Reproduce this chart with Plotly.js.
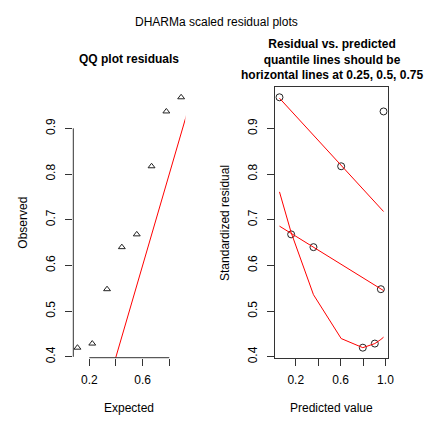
<!DOCTYPE html>
<html><head><meta charset="utf-8">
<script src="https://cdn.plot.ly/plotly-3.0.1.min.js"></script>
<style>html,body{margin:0;padding:0;background:#fff;}</style>
</head><body><div id="chart" style="width:432px;height:432px;"></div>
<script>
// QQ plot data
const qqExpected = [0.111, 0.222, 0.333, 0.444, 0.556, 0.667, 0.778, 0.889];
const qqObserved = [0.420, 0.429, 0.548, 0.640, 0.668, 0.817, 0.937, 0.968];
const qqLineX = [0, 1];
const qqLineY = [0, 1];
// Residual vs predicted data
const predicted = [0.055, 0.983, 0.605, 0.159, 0.358, 0.959, 0.798, 0.905];
const residual  = [0.968, 0.937, 0.817, 0.668, 0.640, 0.548, 0.420, 0.429];
// Quantile regression lines
const q75X = [0.055, 0.983];
const q75Y = [0.966, 0.718];
const q50X = [0.055, 0.983];
const q50Y = [0.686, 0.545];
const q25X = [0.055, 0.159, 0.358, 0.605, 0.798, 0.905, 0.959, 0.983];
const q25Y = [0.761, 0.672, 0.536, 0.440, 0.420, 0.429, 0.438, 0.443];
// Ticks
const qqXTickVals = [0.2, 0.4, 0.6, 0.8];
const qqXTickText = ['0.2', '', '0.6', ''];
const yTickVals = [0.4, 0.5, 0.6, 0.7, 0.8, 0.9];
const yTickText = ['0.4', '0.5', '0.6', '0.7', '0.8', '0.9'];
const resXTickVals = [0.2, 0.4, 0.6, 0.8, 1.0];
const resXTickText = ['0.2', '', '0.6', '', '1.0'];

function rRange(arr) {
  const mn = Math.min(...arr), mx = Math.max(...arr), r = mx - mn;
  return [mn - 0.04 * r, mx + 0.04 * r];
}

const FONT = 'Liberation Sans, Arial, Helvetica, sans-serif';
const AX = '#333';
const traces = [
  {x: qqExpected, y: qqObserved, xaxis: 'x', yaxis: 'y', mode: 'markers', type: 'scatter',
   marker: {symbol: 'triangle-up-open', size: 6, color: '#222', line: {width: 1, color: '#222'}}},
  {x: qqLineX, y: qqLineY, xaxis: 'x', yaxis: 'y', mode: 'lines', type: 'scatter',
   line: {color: '#ff0000', width: 1}},
  {x: predicted, y: residual, xaxis: 'x2', yaxis: 'y2', mode: 'markers', type: 'scatter',
   marker: {symbol: 'circle-open', size: 7, color: '#222', line: {width: 1, color: '#222'}}},
  {x: q75X, y: q75Y, xaxis: 'x2', yaxis: 'y2', mode: 'lines', type: 'scatter', line: {color: '#ff0000', width: 1}},
  {x: q50X, y: q50Y, xaxis: 'x2', yaxis: 'y2', mode: 'lines', type: 'scatter', line: {color: '#ff0000', width: 1}},
  {x: q25X, y: q25Y, xaxis: 'x2', yaxis: 'y2', mode: 'lines', type: 'scatter', line: {color: '#ff0000', width: 1}}
];

const common = {showgrid: false, zeroline: false, ticks: 'outside', ticklen: 7, tickwidth: 1,
  tickcolor: AX, tickfont: {family: FONT, size: 12, color: '#000'}, fixedrange: true, automargin: false};
const yDom = [0.172, 0.798];

const layout = {
  width: 432, height: 432, margin: {l: 0, r: 0, t: 0, b: 0},
  paper_bgcolor: '#fff', plot_bgcolor: '#fff', showlegend: false,
  font: {family: FONT, size: 12, color: '#000'},
  xaxis: Object.assign({}, common, {domain: [0.1697, 0.4289], anchor: 'y', range: rRange(qqExpected),
    tickmode: 'array', tickvals: qqXTickVals, ticktext: qqXTickText, showline: false, ticklabelstandoff: 4}),
  yaxis: Object.assign({}, common, {domain: yDom, anchor: 'x', range: rRange(qqObserved),
    tickmode: 'array', tickvals: yTickVals, ticktext: yTickText, tickangle: -90, showline: false, ticklabelstandoff: 6}),
  xaxis2: Object.assign({}, common, {domain: [0.6373, 0.8975], anchor: 'y2', range: rRange(predicted),
    tickmode: 'array', tickvals: resXTickVals, ticktext: resXTickText, showline: true, mirror: true,
    linecolor: AX, linewidth: 1, ticklabelstandoff: 4}),
  yaxis2: Object.assign({}, common, {domain: yDom, anchor: 'x2', range: rRange(residual),
    tickmode: 'array', tickvals: yTickVals, ticktext: yTickText, tickangle: -90, showline: true, mirror: true,
    linecolor: AX, linewidth: 1, ticklabelstandoff: 6}),
  shapes: [
    {type: 'line', xref: 'x', yref: 'y domain', x0: qqXTickVals[0], x1: qqXTickVals[qqXTickVals.length - 1],
     y0: 0, y1: 0, line: {color: AX, width: 1}},
    {type: 'line', xref: 'x domain', yref: 'y', x0: 0, x1: 0, y0: yTickVals[0], y1: yTickVals[yTickVals.length - 1],
     line: {color: AX, width: 1}}
  ],
  annotations: [
    {text: 'DHARMa scaled residual plots', xref: 'paper', yref: 'paper', x: 0.5016, y: 0.949,
     showarrow: false, xanchor: 'center', yanchor: 'middle', font: {size: 12}},
    {text: 'QQ plot residuals', xref: 'paper', yref: 'paper', x: 0.2993, y: 0.8634,
     showarrow: false, xanchor: 'center', yanchor: 'middle', font: {size: 12, weight: 'bold'}},
    {text: 'Residual vs. predicted<br>quantile lines should be<br>horizontal lines at 0.25, 0.5, 0.75',
     xref: 'paper', yref: 'paper', x: 0.7674, y: 0.8634,
     showarrow: false, xanchor: 'center', yanchor: 'middle', font: {size: 12, weight: 'bold'}},
    {text: 'Expected', xref: 'paper', yref: 'paper', x: 0.2993, y: 0.0556,
     showarrow: false, xanchor: 'center', yanchor: 'middle', font: {size: 12}},
    {text: 'Observed', xref: 'paper', yref: 'paper', x: 0.0525, y: 0.4838, textangle: -90,
     showarrow: false, xanchor: 'center', yanchor: 'middle', font: {size: 12}},
    {text: 'Predicted value', xref: 'paper', yref: 'paper', x: 0.7674, y: 0.0556,
     showarrow: false, xanchor: 'center', yanchor: 'middle', font: {size: 12}},
    {text: 'Standardized residual', xref: 'paper', yref: 'paper', x: 0.5208, y: 0.4838, textangle: -90,
     showarrow: false, xanchor: 'center', yanchor: 'middle', font: {size: 12}}
  ]
};

Plotly.newPlot('chart', traces, layout, {staticPlot: true, displayModeBar: false});
</script>
</body></html>
